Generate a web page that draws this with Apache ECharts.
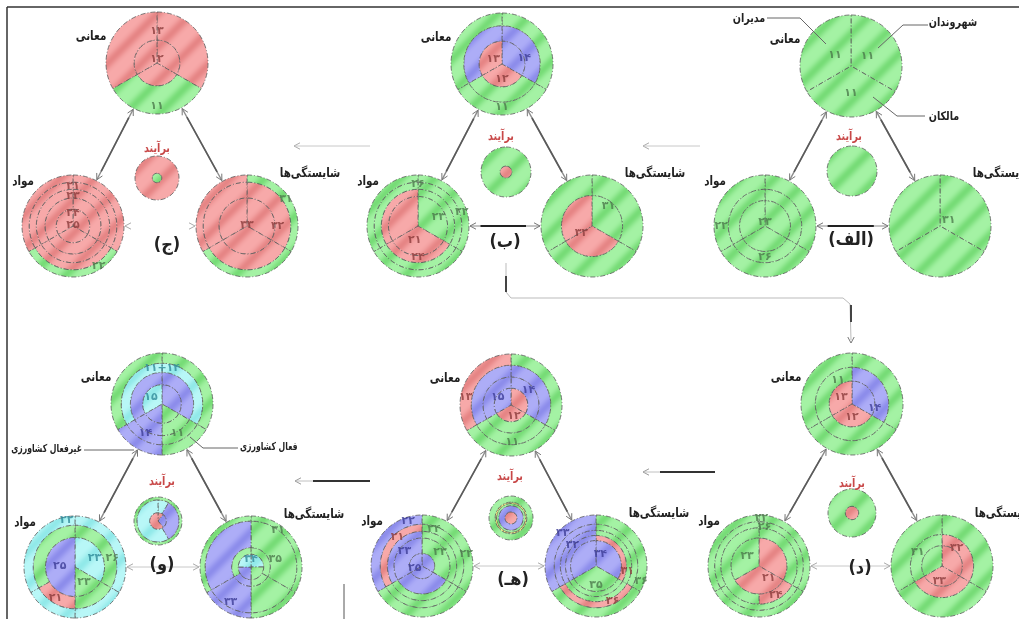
<!DOCTYPE html>
<html><head><meta charset="utf-8">
<script src="https://cdn.jsdelivr.net/npm/echarts@6/dist/echarts.min.js"></script>
<style>html,body{margin:0;padding:0;background:#fff}#c{width:1019px;height:619px}</style>
</head><body><div id="c"></div><script>
// ===== DATA =====
// Ring strings: tokens "<degrees><colour>" clockwise from 12 o'clock, inner ring first.
// Labels: [radius fraction, angle clockwise from 12 o'clock, text, colour code]
// ---- (الف)
const alefMRings = ["120g 120g 120g"];
const alefMLabels = [[0.38,304,'۱۱','g'],[0.38,58,'۱۱','g'],[0.54,180,'۱۱','g']];
const alefVRings = ["120g 120g 120g","120g 120g 120g","120g 120g 120g"];
const alefVLabels = [[0.08,0,'۲۳','g'],[0.62,180,'۲۶','g'],[0.86,270,'۲۲','g']];
const alefSRings = ["120g 120g 120g"];
const alefSLabels = [[0.2,58,'۳۱','g']];
const alefBRings = ["360g"];
// ---- (ب)
const beMRings = ["120b 120r 120r","120b 120g 120b","120g 120g 120g"];
const beMLabels = [[0.45,75,'۱۴','b'],[0.2,300,'۱۳','r'],[0.3,180,'۱۲','r'],[0.85,180,'۱۱','g']];
const beVRings = ["120g 120r 120r","120g 120r 120r","120g 120g 120g","120g 120g 120g"];
const beVLabels = [[0.44,66,'۲۳','g'],[0.28,193,'۲۱','r'],[0.62,180,'۲۴','r'],[0.82,0,'۲۶','g'],[0.9,72,'۲۲','g']];
const beSRings = ["120g 120r 120r","120g 120g 120g"];
const beSLabels = [[0.5,40,'۳۱','g'],[0.25,236,'۳۲','r']];
const beBRings = ["360r","360g"];
// ---- (ج)
const jimMRings = ["120r 120r 120r","120r 120g 120r"];
const jimMLabels = [[0.63,0,'۱۳','r'],[0.08,0,'۱۲','r'],[0.85,180,'۱۱','g']];
const jimVRings = ["120r 120r 120r","120r 120r 120r","120r 120r 120r","120r 120r 120r","120r 120g 120r"];
const jimVLabels = [[0.02,0,'۲۵','r'],[0.25,0,'۲۴','r'],[0.58,0,'۲۳','r'],[0.78,0,'۲۱','r'],[0.93,147,'۲۲','g']];
const jimSRings = ["120r 120r 120r","120r 120r 120r","120g 120g 120r"];
const jimSLabels = [[0.02,0,'۳۳','r'],[0.6,90,'۳۲','r'],[0.93,55,'۳۱','g']];
const jimBRings = ["360g","360r"];
// ---- (د)
const dalMRings = ["120b 120r 120r","120b 120g 120g","120g 120g 120g"];
const dalMLabels = [[0.55,330,'۱۱','g'],[0.25,300,'۱۳','r'],[0.25,180,'۱۲','r'],[0.45,100,'۱۴','b']];
const dalVRings = ["120r 120r 120g","120g 60r 180g","120g 120g 120g","120g 120g 120g"];
const dalVLabels = [[0.3,309,'۲۳','g'],[0.3,140,'۲۱','r'],[0.66,150,'۲۴','r'],[0.77,8,'۲۶','g'],[0.93,3,'۲۲','g']];
const dalSRings = ["120r 120r 120g","120r 120r 120g","120g 120g 120g"];
const dalSLabels = [[0.55,300,'۳۱','g'],[0.45,40,'۳۲','r'],[0.3,190,'۳۳','r']];
const dalBRings = ["360r","360g"];
// ---- (هـ)
const heMRings = ["120r 120r 120b","120b 120g 120b","120b 120g 120b","120g 120g 120r"];
const heMLabels = [[0.3,300,'۱۵','b'],[0.45,50,'۱۴','b'],[0.22,165,'۱۲','r'],[0.72,178,'۱۱','g'],[0.9,280,'۱۳','r']];
const heVRings = ["120b 120b 120b","120g 120b 120b","120g 120g 120b","120g 120g 120r","120g 120g 120b"];
const heVLabels = [[0.15,250,'۲۵','b'],[0.45,310,'۲۳','b'],[0.45,52,'۲۳','g'],[0.75,320,'۲۱','r'],[0.92,343,'۲۲','b'],[0.76,18,'۲۴','g'],[0.9,75,'۲۲','g']];
const heSRings = ["120b 120g 120b","120r 120g 120b","120g 120g 120b","120g 120r 120b","120g 120g 120b"];
const heSLabels = [[0.25,20,'۳۴','b'],[0.38,180,'۳۵','g'],[0.62,100,'۳۱','r'],[0.93,108,'۳۶','g'],[0.76,155,'۳۶','r'],[0.62,312,'۳۲','b'],[0.92,315,'۳۳','b']];
const heBRings = ["360r","360b","360g","360y","360g"];
// ---- (و)
const vavMRings = ["120b 60g 60b 120c","120b 60g 60b 120b","120c 60g 60b 120c","120g 60g 60b 120g"];
const vavMLabels = [[0.7,0,'۱۱+۱۴','c'],[0.25,300,'۱۵','c'],[0.65,210,'۱۴','b'],[0.65,152,'۱۱','g']];
const vavVRings = ["120c 60g 180b","120g 60g 60r 120g","120c 60c 60c 120c"];
const vavVLabels = [[0.42,65,'۲۳','c'],[0.35,150,'۲۳','g'],[0.3,272,'۲۵','b'],[0.75,77,'۲۶','g'],[0.93,350,'۲۲','c'],[0.72,212,'۲۱','r']];
const vavSRings = ["90c 90g 90b 90c","120g 60g 60b 120g","120g 60g 60b 120b","120g 60g 60b 120g"];
const vavSLabels = [[0.15,0,'۳۴','c'],[0.5,72,'۳۵','g'],[0.9,36,'۳۱','g'],[0.8,210,'۳۳','b']];
const vavBRings = ["40r 100b 220r","30c 120b 210c","360g"];

// ===== LAYOUT (ring edge fractions, centres, sizes) =====
const EDGES = {
  alefM:[0,1], alefV:[0,0.5,0.72,1], alefS:[0,1], alefB:[0,1],
  beM:[0,0.45,0.75,1], beV:[0,0.58,0.72,0.86,1], beS:[0,0.6,1], beB:[0,0.24,1],
  jimM:[0,0.45,1], jimV:[0,0.33,0.55,0.72,0.86,1], jimS:[0,0.55,0.86,1], jimB:[0,0.22,1],
  dalM:[0,0.45,0.72,1], dalV:[0,0.55,0.75,0.87,1], dalS:[0,0.4,0.62,1], dalB:[0,0.28,1],
  heM:[0,0.33,0.55,0.78,1], heV:[0,0.25,0.55,0.68,0.82,1], heS:[0,0.5,0.6,0.7,0.82,1], heB:[0,0.28,0.56,0.66,0.72,1],
  vavM:[0,0.38,0.62,0.8,1], vavV:[0,0.58,0.82,1], vavS:[0,0.25,0.38,0.9,1], vavB:[0,0.35,0.88,1]
};
const R = 51;
const PANELS = {
  alef:{M:[851,66],V:[765,226],S:[940,226],B:[852,171],rb:25,title:[849,137],letter:[851,240],txt:'(الف)',vs:'bold'},
  be:{M:[502,64],V:[418,226],S:[592,226],B:[506,172],rb:25,title:[501,137],letter:[505,242],txt:'(ب)',vs:'bold'},
  jim:{M:[157,63],V:[73,226],S:[247,226],B:[157,178],rb:22,title:[157,149],letter:[167,245],txt:'(ج)',vs:'heads'},
  dal:{M:[852,404],V:[759,566],S:[942,566],B:[852,513],rb:24,title:[852,484],letter:[860,568],txt:'(د)',vs:'light'},
  he:{M:[511,405],V:[422,566],S:[596,566],B:[511,518],rb:22,title:[510,477],letter:[513,580],txt:'(هـ)',vs:'light'},
  vav:{M:[162,404],V:[75,567],S:[251,567],B:[158,521],rb:24,title:[162,482],letter:[162,565],txt:'(و)',vs:'light'}
};
const RINGS = {
  alefM:alefMRings, alefV:alefVRings, alefS:alefSRings, alefB:alefBRings,
  beM:beMRings, beV:beVRings, beS:beSRings, beB:beBRings,
  jimM:jimMRings, jimV:jimVRings, jimS:jimSRings, jimB:jimBRings,
  dalM:dalMRings, dalV:dalVRings, dalS:dalSRings, dalB:dalBRings,
  heM:heMRings, heV:heVRings, heS:heSRings, heB:heBRings,
  vavM:vavMRings, vavV:vavVRings, vavS:vavSRings, vavB:vavBRings
};
const LABELS = {
  alefM:alefMLabels, alefV:alefVLabels, alefS:alefSLabels,
  beM:beMLabels, beV:beVLabels, beS:beSLabels,
  jimM:jimMLabels, jimV:jimVLabels, jimS:jimSLabels,
  dalM:dalMLabels, dalV:dalVLabels, dalS:dalSLabels,
  heM:heMLabels, heV:heVLabels, heS:heSLabels,
  vavM:vavMLabels, vavV:vavVLabels, vavS:vavSLabels
};

// ===== STYLE =====
const COL = {g:['#a4f2a4','#6fd86f'], r:['#f7a9a9','#e37f7f'], b:['#adadf7','#8787e9'], c:['#b8f7f7','#8ae6e6'], y:['#f6f27c','#e8e264']};
const LABC = {g:'#4c7a4c', r:'#8c3c3c', b:'#3c3c96', c:'#2f8a99'};
const FONT = '"DejaVu Sans", sans-serif';
function hex(h){return [1,3,5].map(i=>parseInt(h.substr(i,2),16));}
function makePattern(base, dark){
  const n=34, cv=document.createElement('canvas'); cv.width=cv.height=n;
  const ctx=cv.getContext('2d'); const img=ctx.createImageData(n,n);
  const a=hex(base), b=hex(dark);
  for(let y=0;y<n;y++)for(let x=0;x<n;x++){
    const t=((x+y)%n)/n; let k=0.5+0.5*Math.cos(2*Math.PI*t); k=Math.pow(k,2.2)*0.85;
    const i=(y*n+x)*4; for(let j=0;j<3;j++) img.data[i+j]=Math.round(a[j]+(b[j]-a[j])*k); img.data[i+3]=255;
  }
  ctx.putImageData(img,0,0); return {image:cv, repeat:'repeat'};
}
const PAT = {}; Object.keys(COL).forEach(k=>PAT[k]=makePattern(COL[k][0],COL[k][1]));
function parseRing(s){return s.trim().split(/\s+/).map(t=>[parseFloat(t), t.replace(/[0-9.]/g,'')]);}

// ===== BUILD =====
const series=[], polar=[], angleAxis=[], radiusAxis=[], gfx=[];
function addCircle(key, c, rad){
  const rings=RINGS[key], edges=EDGES[key];
  rings.forEach((s,i)=>{
    series.push({type:'pie', silent:true, animation:false, z:2, center:c, radius:[edges[i]*rad, edges[i+1]*rad],
      startAngle:90, clockwise:true, label:{show:false}, labelLine:{show:false}, emphasis:{disabled:true},
      data: parseRing(s).map(([v,code])=>({value:v, itemStyle:{color:PAT[code], borderColor:'#5a5a5a', borderWidth:0.8, borderType:[5,2,1,2]}}))});
  });
  const labs=LABELS[key];
  if(labs){
    const k=polar.length;
    polar.push({center:c, radius:rad});
    angleAxis.push({polarIndex:k, type:'value', min:0, max:360, startAngle:90, clockwise:true, show:false});
    radiusAxis.push({polarIndex:k, type:'value', min:0, max:1, show:false});
    series.push({type:'scatter', coordinateSystem:'polar', polarIndex:k, silent:true, animation:false, z:5, symbolSize:1,
      itemStyle:{color:'transparent'},
      label:{show:true, position:'inside', formatter:'{b}', fontSize:11, fontWeight:'bold', fontFamily:FONT},
      data: labs.map(l=>({name:l[2], value:[l[0],l[1]], label:{color:LABC[l[3]||'g']}}))});
  }
}
function txt(x,y,s,font,fill,align,sx){return {type:'text', silent:true, z:20, x:x, y:y, scaleX:sx||0.8, style:{x:0,y:0,text:s,font:font,fill:fill||'#222',textAlign:align||'center',textVerticalAlign:'middle'}};}
function seg(x1,y1,x2,y2,stroke,w){return {type:'line', silent:true, z:15, shape:{x1,y1,x2,y2}, style:{stroke:stroke,lineWidth:w}};}
function poly(pts,stroke,w){return {type:'polyline', silent:true, z:15, shape:{points:pts}, style:{stroke:stroke,lineWidth:w,fill:null}};}
function head(x,y,ux,uy,stroke){ // tip at (x,y), pointing along (ux,uy)
  const L=6, W=3.2, bx=x-ux*L, by=y-uy*L;
  return poly([[bx-uy*W,by+ux*W],[x,y],[bx+uy*W,by-ux*W]], stroke, 1);
}
function arrow(c1,c2,r1,r2,style){
  const dx=c2[0]-c1[0], dy=c2[1]-c1[1], d=Math.hypot(dx,dy), ux=dx/d, uy=dy/d;
  const p1=[c1[0]+ux*(r1+1), c1[1]+uy*(r1+1)], p2=[c2[0]-ux*(r2+1), c2[1]-uy*(r2+1)];
  const at=t=>[p1[0]+(p2[0]-p1[0])*t, p1[1]+(p2[1]-p1[1])*t];
  if(style==='light'){ gfx.push(seg(p1[0],p1[1],p2[0],p2[1],'#c8c8c8',1)); }
  else if(style==='bold'){ gfx.push(seg(p1[0],p1[1],p2[0],p2[1],'#8a8a8a',1)); const a=at(0.15), b=at(0.8); gfx.push(seg(a[0],a[1],b[0],b[1],'#222',2.2)); }
  else if(style==='diag'){ gfx.push(seg(p1[0],p1[1],p2[0],p2[1],'#8c8c8c',1.4)); const a=at(0.12), b=at(0.88); gfx.push(seg(a[0],a[1],b[0],b[1],'#5a5a5a',1.6)); }
  const hc = style==='light'||style==='heads' ? '#aaa' : '#777';
  gfx.push(head(p1[0],p1[1],-ux,-uy,hc)); gfx.push(head(p2[0],p2[1],ux,uy,hc));
}
const TF='bold 13px '+FONT;
Object.keys(PANELS).forEach(p=>{
  const P=PANELS[p];
  addCircle(p+'M',P.M,R); addCircle(p+'V',P.V,R); addCircle(p+'S',P.S,R); addCircle(p+'B',P.B,P.rb);
  arrow(P.M,P.V,R,R,'diag'); arrow(P.M,P.S,R,R,'diag'); arrow(P.V,P.S,R,R,P.vs);
  gfx.push(txt(P.M[0]-66,P.M[1]-26,'معانی',TF));
  gfx.push(txt(P.V[0]-39,P.V[1]-44,'مواد',TF,'#222','right'));
  gfx.push(txt(P.S[0]+63,P.S[1]-52,'شایستگی‌ها',TF));
  gfx.push(txt(P.title[0],P.title[1],'برآیند','bold 12px '+FONT,'#c84848'));
  gfx.push(txt(P.letter[0],P.letter[1],P.txt,'bold 18px '+FONT,'#222','center',0.9));
});
// callouts
const CF='bold 12px '+FONT, CF2='bold 11px '+FONT;
gfx.push(txt(749,19,'مدیران',CF)); gfx.push(poly([[767,18],[800,18],[826,44]],'#666',1));
gfx.push(txt(953,23,'شهروندان',CF)); gfx.push(poly([[928,25],[903,25],[878,48]],'#666',1));
gfx.push(txt(944,117,'مالکان',CF)); gfx.push(poly([[925,116],[897,116],[873,97]],'#666',1));
gfx.push(txt(82,449,'غیرفعال کشاورزی',CF2,'#222','right',0.7)); gfx.push(poly([[84,450],[134,450]],'#666',1));
gfx.push(txt(240,447,'فعال کشاورزی',CF2,'#222','left',0.7)); gfx.push(poly([[238,448],[203,448],[190,437]],'#666',1));
// frame
gfx.push(seg(7,7,1019,7,'#333',1.5)); gfx.push(seg(7,7,7,619,'#333',1.5));
gfx.push(seg(344,584,344,619,'#555',1));
// flow arrows between panels
gfx.push(seg(700,146,645,146,'#c8c8c8',1)); gfx.push(head(643,146,-1,0,'#aaa'));
gfx.push(seg(370,146,296,146,'#c8c8c8',1)); gfx.push(head(294,146,-1,0,'#aaa'));
gfx.push(seg(715,472,645,472,'#c0c0c0',1)); gfx.push(seg(715,472,660,472,'#333',2)); gfx.push(head(643,472,-1,0,'#999'));
gfx.push(seg(370,481,297,481,'#c0c0c0',1)); gfx.push(seg(370,481,313,481,'#333',2)); gfx.push(head(295,481,-1,0,'#999'));
// connector (ب) -> (د)
gfx.push(poly([[506,263],[506,292],[511,298],[843,298],[850,304],[851,340]],'#bbb',1));
gfx.push(seg(506,276,506,292,'#444',2)); gfx.push(seg(851,305,851,322,'#444',2));
gfx.push(head(851,343,0,1,'#777'));

const chart=echarts.init(document.getElementById('c'),null,{renderer:'canvas'});
chart.setOption({animation:false, backgroundColor:'#fff', polar:polar, angleAxis:angleAxis, radiusAxis:radiusAxis, series:series, graphic:{elements:gfx}});
</script></body></html>
